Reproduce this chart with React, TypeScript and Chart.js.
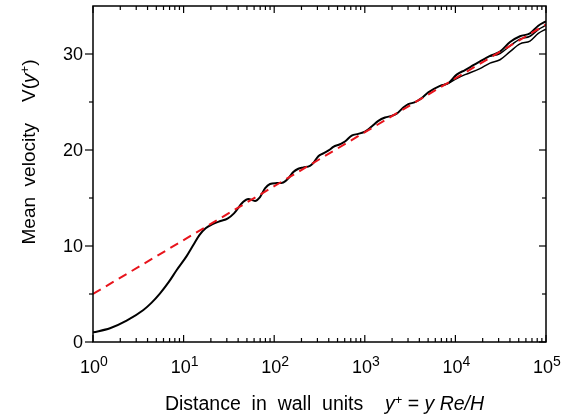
import React, { useEffect, useRef } from "react";
import { Chart, registerables } from "chart.js";

Chart.register(...registerables);

// Main profile (full range)
const yPlusA = [
  1, 1.54, 2.35, 3.6, 4.44, 5.5, 6.78, 8.4, 10.8, 12.8, 15.0, 17.5, 20.6, 25.5, 30.5, 36, 45.6, 51.8,
  61.4, 69.7, 79.1, 89.9, 106.6, 126, 143, 162.5, 184.6, 209.6, 248, 270, 307, 348, 413, 449, 532, 604,
  716, 847, 1005, 1191, 1410, 1671, 1982, 2250, 2661, 3020, 3581, 4246, 5024, 6761, 8351, 10330, 12770,
  15770, 19500, 24100, 31050, 40080, 51640, 66550, 82220, 100000,
];
const velA = [
  1.0, 1.43, 2.22, 3.33, 4.1, 5.07, 6.18, 7.5, 8.95, 10.1, 11.15, 11.85, 12.25, 12.6, 12.85, 13.4, 14.6,
  14.9, 14.7, 15.1, 16.0, 16.46, 16.55, 16.62, 17.05, 17.7, 18.05, 18.18, 18.35, 18.65, 19.35, 19.65,
  20.05, 20.33, 20.6, 20.88, 21.5, 21.68, 21.92, 22.45, 23.03, 23.38, 23.56, 23.78, 24.42, 24.77,
  24.98, 25.4, 26.0, 26.68, 26.95, 27.85, 28.33, 28.83, 29.33, 29.8, 30.25, 31.25, 31.85, 32.15, 32.95,
  33.4,
];

// Second profile (departs slightly at large y+)
const yPlusB = [24100, 31050, 40080, 51640, 66550, 82220, 100000];
const velB = [29.75, 30.05, 30.85, 31.55, 31.85, 32.55, 33.0];

// Third profile (lowest at large y+)
const yPlusC = [6761, 8351, 10330, 12770, 18400, 24100, 31050, 40080, 51640, 66550, 82220, 100000];
const velC = [26.68, 26.95, 27.45, 27.85, 28.45, 29.05, 29.4, 30.25, 31.05, 31.35, 32.15, 32.6];

// Log law V = (1/0.41) ln y+ + 5
const yPlusLog = [1, 100000];
const velLog = [5.0, 33.08];

const xDecades = [0, 1, 2, 3, 4, 5];
const yMajor = [0, 10, 20, 30];
const yMinor = [5, 15, 25];

const FONT = '"Liberation Sans", Arial, Helvetica, sans-serif';

type Part = { t: string; size: number; italic?: boolean; dy?: number };

function partsWidth(ctx: CanvasRenderingContext2D, parts: Part[]) {
  let w = 0;
  for (const p of parts) {
    ctx.font = `${p.italic ? "italic " : ""}${p.size}px ${FONT}`;
    w += ctx.measureText(p.t).width;
  }
  return w;
}

function drawParts(ctx: CanvasRenderingContext2D, parts: Part[], x: number, y: number) {
  let cx = x;
  for (const p of parts) {
    ctx.font = `${p.italic ? "italic " : ""}${p.size}px ${FONT}`;
    ctx.fillText(p.t, cx, y + (p.dy || 0));
    cx += ctx.measureText(p.t).width;
  }
}

const axesPlugin = {
  id: "customAxes",
  afterDraw(chart: any) {
    const { ctx, chartArea: a, scales } = chart;
    const xs = scales.x;
    const ys = scales.y;
    ctx.save();
    ctx.strokeStyle = "#000";
    ctx.fillStyle = "#000";
    ctx.lineWidth = 1.5;
    ctx.strokeRect(a.left, a.top, a.right - a.left, a.bottom - a.top);

    const seg = (x1: number, y1: number, x2: number, y2: number) => {
      ctx.beginPath();
      ctx.moveTo(x1, y1);
      ctx.lineTo(x2, y2);
      ctx.stroke();
    };
    ctx.lineWidth = 1.2;
    for (const v of yMajor) {
      const p = ys.getPixelForValue(v);
      seg(a.left - 8, p, a.left, p);
      seg(a.right - 7, p, a.right, p);
    }
    for (const v of yMinor) {
      const p = ys.getPixelForValue(v);
      seg(a.left - 4, p, a.left, p);
      seg(a.right - 4, p, a.right, p);
    }
    for (const e of xDecades) {
      const base = Math.pow(10, e);
      const p = xs.getPixelForValue(base);
      seg(p, a.bottom, p, a.bottom - 7);
      seg(p, a.top, p, a.top + 7);
      if (e < 5) {
        for (let m = 2; m <= 9; m++) {
          const q = xs.getPixelForValue(base * m);
          seg(q, a.bottom, q, a.bottom - 4);
          seg(q, a.top, q, a.top + 4);
        }
      }
    }

    // y tick labels
    ctx.textAlign = "right";
    ctx.textBaseline = "middle";
    ctx.font = `18px ${FONT}`;
    for (const v of yMajor) {
      ctx.fillText(String(v), a.left - 10, ys.getPixelForValue(v) + 1);
    }

    // x tick labels
    ctx.textAlign = "left";
    ctx.textBaseline = "alphabetic";
    for (const e of xDecades) {
      const parts: Part[] = [
        { t: "10", size: 18 },
        { t: String(e), size: 14, dy: -7 },
      ];
      const w = partsWidth(ctx, parts);
      const p = xs.getPixelForValue(Math.pow(10, e));
      drawParts(ctx, parts, p - w / 2 + 1, a.bottom + 31);
    }

    // x title
    const xt: Part[] = [
      { t: "Distance  in  wall  units    ", size: 19.5 },
      { t: "y", size: 19.5, italic: true },
      { t: "+", size: 13, dy: -6 },
      { t: " = ", size: 19.5 },
      { t: "y", size: 19.5, italic: true },
      { t: " ", size: 19.5 },
      { t: "Re/H", size: 19.5, italic: true },
    ];
    const xw = partsWidth(ctx, xt);
    drawParts(ctx, xt, 324.5 - xw / 2, 410);

    // y title
    const yt: Part[] = [
      { t: "Mean  velocity    V(", size: 19 },
      { t: "y", size: 19, italic: true },
      { t: "+", size: 13, dy: -6 },
      { t: ")", size: 19 },
    ];
    const yw = partsWidth(ctx, yt);
    ctx.translate(35, 152);
    ctx.rotate(-Math.PI / 2);
    drawParts(ctx, yt, -yw / 2, 0);
    ctx.restore();
  },
};

const toPts = (xs: number[], ys: number[]) => xs.map((x, i) => ({ x, y: ys[i] }));

export default function App() {
  const ref = useRef<HTMLCanvasElement>(null);
  useEffect(() => {
    const canvas = ref.current;
    if (!canvas) return;
    const chart = new Chart(canvas, {
      type: "line",
      data: {
        datasets: [
          {
            data: toPts(yPlusLog, velLog),
            borderColor: "#e8141c",
            borderWidth: 2,
            borderDash: [9, 6],
            pointRadius: 0,
            fill: false,
            order: 0,
          },
          {
            data: toPts(yPlusC, velC),
            borderColor: "#000",
            borderWidth: 1.5,
            pointRadius: 0,
            cubicInterpolationMode: "monotone",
            fill: false,
            order: 3,
          },
          {
            data: toPts(yPlusB, velB),
            borderColor: "#000",
            borderWidth: 1.5,
            pointRadius: 0,
            cubicInterpolationMode: "monotone",
            fill: false,
            order: 2,
          },
          {
            data: toPts(yPlusA, velA),
            borderColor: "#000",
            borderWidth: 2,
            pointRadius: 0,
            cubicInterpolationMode: "monotone",
            fill: false,
            order: 1,
          },
        ],
      } as any,
      options: {
        responsive: false,
        animation: false,
        layout: { padding: { left: 93, right: 28, top: 6, bottom: 78 } },
        plugins: { legend: { display: false }, tooltip: { enabled: false } },
        scales: {
          x: { type: "logarithmic", min: 1, max: 100000, display: false },
          y: { type: "linear", min: 0, max: 35, display: false },
        },
      } as any,
      plugins: [axesPlugin],
    });
    return () => chart.destroy();
  }, []);
  return (
    <div style={{ position: "fixed", left: 0, top: 0, width: 574, height: 420, background: "#fff" }}>
      <canvas ref={ref} width={574} height={420} style={{ display: "block" }} />
    </div>
  );
}
